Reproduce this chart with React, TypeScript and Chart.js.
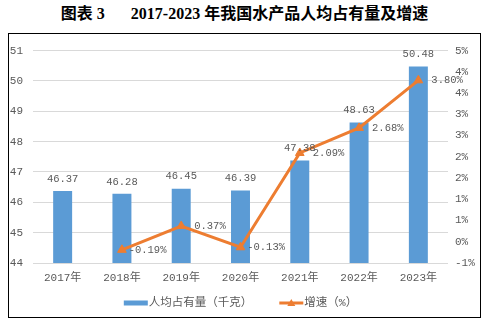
import React, { useEffect, useRef } from "react";
import { Chart, registerables } from "chart.js";

Chart.register(...registerables);

const categories = ["2017年", "2018年", "2019年", "2020年", "2021年", "2022年", "2023年"];
const perCapita = [46.37, 46.28, 46.45, 46.39, 47.38, 48.63, 50.48];
const growth = [null, -0.19, 0.37, -0.13, 2.09, 2.68, 3.8];
const barName = "人均占有量（千克）";
const lineName = "增速（%）";
const titleA = "图表 3";
const titleB = "2017-2023 年我国水产品人均占有量及增速";

const BLUE = "#5B9BD5";
const ORANGE = "#ED7D31";
const GRAY = "#595959";
const FONT = '"Liberation Mono", "Noto Sans CJK SC", monospace';

function excelPct(v: number) {
  const s = v < 0 ? -1 : 1;
  const r = s * Math.round(Math.abs(v) + 1e-9);
  return (r === 0 ? 0 : r) + "%";
}

const labelPlugin = {
  id: "labels",
  afterDatasetsDraw(chart: any) {
    const ctx = chart.ctx;
    ctx.save();
    ctx.fillStyle = GRAY;
    ctx.font = `10.5px ${FONT}`;
    const barMeta = chart.getDatasetMeta(0);
    barMeta.data.forEach((el: any, i: number) => {
      ctx.textAlign = "center";
      ctx.textBaseline = "middle";
      ctx.fillText(perCapita[i].toFixed(2), el.x, el.y - 12);
    });
    const lineMeta = chart.getDatasetMeta(1);
    lineMeta.data.forEach((el: any, i: number) => {
      const v = growth[i];
      if (v === null || v === undefined) return;
      const txt = v.toFixed(2) + "%";
      ctx.textAlign = "left";
      ctx.textBaseline = "middle";
      const off = v < 0 ? ctx.measureText("-").width : 0;
      ctx.fillText(txt, el.x + 13 - off, el.y);
    });
    ctx.restore();
  },
};

const legendPlugin = {
  id: "customLegend",
  afterDraw(chart: any) {
    const ctx = chart.ctx;
    const ca = chart.chartArea;
    ctx.save();
    ctx.font = `11.5px ${FONT}`;
    ctx.fillStyle = GRAY;
    ctx.textBaseline = "middle";
    ctx.textAlign = "left";
    const w1 = ctx.measureText(barName).width;
    const w2 = ctx.measureText(lineName).width;
    const sw = 24;
    const gap = 27;
    const total = sw + 1 + w1 + gap + sw + 1 + w2;
    let x = (ca.left + ca.right) / 2 - total / 2;
    const y = 269;
    ctx.fillStyle = BLUE;
    ctx.fillRect(x, y - 2.5, sw, 5);
    x += sw + 1;
    ctx.fillStyle = GRAY;
    ctx.fillText(barName, x, y);
    x += w1 + gap;
    ctx.strokeStyle = ORANGE;
    ctx.lineWidth = 3;
    ctx.beginPath();
    ctx.moveTo(x, y);
    ctx.lineTo(x + sw, y);
    ctx.stroke();
    ctx.fillStyle = ORANGE;
    const cx = x + sw / 2;
    ctx.beginPath();
    ctx.moveTo(cx, y - 4);
    ctx.lineTo(cx + 4, y + 3);
    ctx.lineTo(cx - 4, y + 3);
    ctx.closePath();
    ctx.fill();
    x += sw + 1;
    ctx.fillStyle = GRAY;
    ctx.fillText(lineName, x, y);
    ctx.restore();
  },
};

export default function App() {
  const ref = useRef<HTMLCanvasElement>(null);
  useEffect(() => {
    if (!ref.current) return;
    const chart = new Chart(ref.current, {
      type: "bar",
      data: {
        labels: categories,
        datasets: [
          {
            type: "bar",
            label: barName,
            data: perCapita,
            backgroundColor: BLUE,
            yAxisID: "y",
            barPercentage: 0.32,
            categoryPercentage: 1,
            order: 1,
          },
          {
            type: "line",
            label: lineName,
            data: growth as any,
            borderColor: ORANGE,
            backgroundColor: ORANGE,
            borderWidth: 3,
            pointStyle: "triangle",
            pointRadius: 5,
            pointBackgroundColor: ORANGE,
            pointBorderColor: ORANGE,
            pointBorderWidth: 1,
            yAxisID: "y1",
            order: 0,
          } as any,
        ],
      },
      options: {
        animation: false,
        responsive: false,
        maintainAspectRatio: false,
        layout: { padding: { top: 13, bottom: 30, left: 0, right: 0 } },
        plugins: {
          legend: { display: false },
          tooltip: { enabled: false },
          title: { display: false },
        },
        scales: {
          x: {
            grid: { display: false, drawTicks: false },
            border: { display: false },
            ticks: { color: GRAY, font: { family: FONT, size: 11 }, padding: 8, maxRotation: 0 },
            afterFit: (s: any) => {
              s.height = 24;
            },
          },
          y: {
            position: "left",
            min: 44,
            max: 51,
            ticks: { stepSize: 1, color: GRAY, font: { family: FONT, size: 11 }, padding: 10 },
            grid: { color: "#D9D9D9", drawTicks: false, lineWidth: 1 },
            border: { display: false },
            afterFit: (s: any) => {
              s.width = 24;
            },
          },
          y1: {
            position: "right",
            min: -0.5,
            max: 4.5,
            ticks: {
              stepSize: 0.5,
              color: GRAY,
              font: { family: FONT, size: 11 },
              padding: 7,
              callback: (v: any) => excelPct(Number(v)),
            },
            grid: { display: false, drawTicks: false },
            border: { display: false },
            afterFit: (s: any) => {
              s.width = 32;
            },
          },
        },
      },
      plugins: [labelPlugin, legendPlugin],
    });
    return () => chart.destroy();
  }, []);

  return (
    <div style={{ position: "absolute", left: 0, top: 0, width: 487, height: 324, background: "#fff" }}>
      <div
        style={{
          position: "absolute",
          left: 8,
          top: 4,
          width: 473,
          height: 20,
          lineHeight: "20px",
          textAlign: "center",
          fontWeight: "bold",
          fontSize: 16,
          fontFamily: '"Liberation Serif", "Noto Sans CJK SC", serif',
          color: "#000",
          whiteSpace: "pre",
        }}
      >
        <span>{titleA}</span>
        <span style={{ display: "inline-block", width: 26 }}></span>
        <span>{titleB}</span>
      </div>
      <div
        style={{
          position: "absolute",
          left: 8,
          top: 33,
          width: 471,
          height: 283,
          border: "1px solid #000",
        }}
      >
        <canvas ref={ref} width={471} height={283} style={{ display: "block", width: 471, height: 283 }} />
      </div>
    </div>
  );
}
